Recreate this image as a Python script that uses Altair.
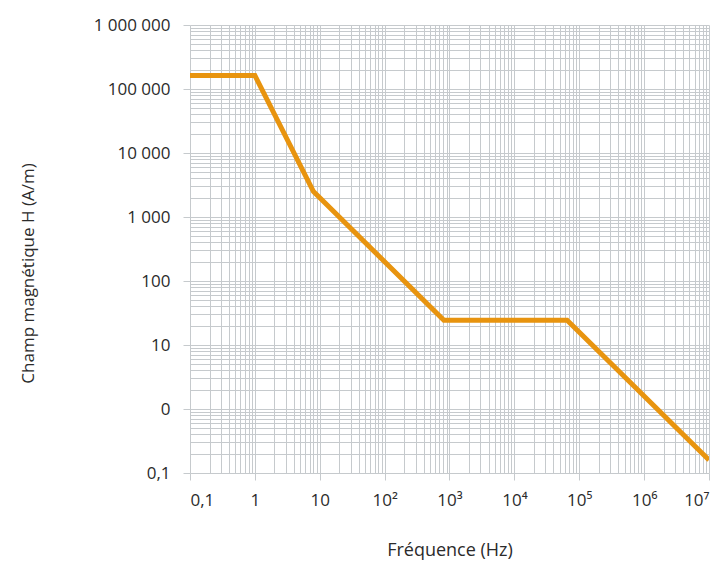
import json
import altair as alt
import pandas as pd

# Data
freq_hz = [0.1, 1, 8, 820, 65000, 1e7]
field_h = [163000, 163000, 2500, 24.4, 24.4, 0.16]

# Decade tick labels (as printed on the reference)
x_tick_labels = ["0,1", "1", "10", "10²", "10³", "10⁴", "10⁵", "10⁶", "10⁷"]
y_tick_labels = ["0,1", "0", "10", "100", "1 000", "10 000", "100 000", "1 000 000"]

x_exponents = list(range(-1, 8))
y_exponents = list(range(-1, 7))
multipliers = [1, 2, 3, 4, 5, 6, 7, 8, 9]

x_grid = [k * 10.0 ** e for e in x_exponents[:-1] for k in multipliers] + [10.0 ** x_exponents[-1]]
y_grid = [k * 10.0 ** e for e in y_exponents[:-1] for k in multipliers] + [10.0 ** y_exponents[-1]]

df = pd.DataFrame({"f": freq_hz, "H": field_h})

is_decade = "abs(log(datum.value)/LN10 - round(log(datum.value)/LN10)) < 1e-6"
idx = "round(log(datum.value)/LN10) + 1"

x_label_expr = f"({is_decade}) ? {json.dumps(x_tick_labels, ensure_ascii=False)}[{idx}] : ''"
y_label_expr = f"({is_decade}) ? {json.dumps(y_tick_labels, ensure_ascii=False)}[{idx}] : ''"

FONT = "Open Sans"
GRID = "#c6cacd"
TEXT = "#2b2b2b"

x_axis = alt.Axis(
    values=x_grid,
    grid=True,
    gridColor=GRID,
    gridWidth=1,
    domain=False,
    ticks=True,
    tickColor=GRID,
    tickSize=7,
    tickOpacity={"condition": {"test": is_decade, "value": 1}, "value": 0},
    labelExpr=x_label_expr,
    labelOverlap=False,
    labelPadding=12,
    labelFont=FONT,
    labelFontSize=17,
    labelColor=TEXT,
    title="Fréquence (Hz)",
    titleFont=FONT,
    titleFontSize=18,
    titleFontWeight="normal",
    titleColor=TEXT,
    titleBaseline="alphabetic",
    titleY=82,
)

y_axis = alt.Axis(
    values=y_grid,
    grid=True,
    gridColor=GRID,
    gridWidth=1,
    domain=False,
    ticks=True,
    tickColor=GRID,
    tickSize=7,
    tickOpacity={"condition": {"test": is_decade, "value": 1}, "value": 0},
    labelExpr=y_label_expr,
    labelOverlap=False,
    labelPadding=13,
    labelFont=FONT,
    labelFontSize=17,
    labelColor=TEXT,
    title="Champ magnétique H (A/m)",
    titleFont=FONT,
    titleFontSize=17,
    titleFontWeight="normal",
    titleColor=TEXT,
    titleBaseline="alphabetic",
    titleAngle=-90,
    titleX=-157,
    titleY=248,
)

chart = (
    alt.Chart(df)
    .mark_line(color="#e8940f", strokeWidth=5, clip=True)
    .encode(
        x=alt.X("f:Q", scale=alt.Scale(type="log", domain=[0.1, 1e7], nice=False), axis=x_axis),
        y=alt.Y("H:Q", scale=alt.Scale(type="log", domain=[0.1, 1e6], nice=False), axis=y_axis),
    )
    .properties(
        width=519,
        height=448,
        autosize="none",
        padding={"left": 182, "top": 17, "right": 4, "bottom": 90},
        background="white",
    )
    .configure_view(strokeWidth=0)
)

chart.save("out.html", embed_options={"renderer": "svg", "actions": False})
